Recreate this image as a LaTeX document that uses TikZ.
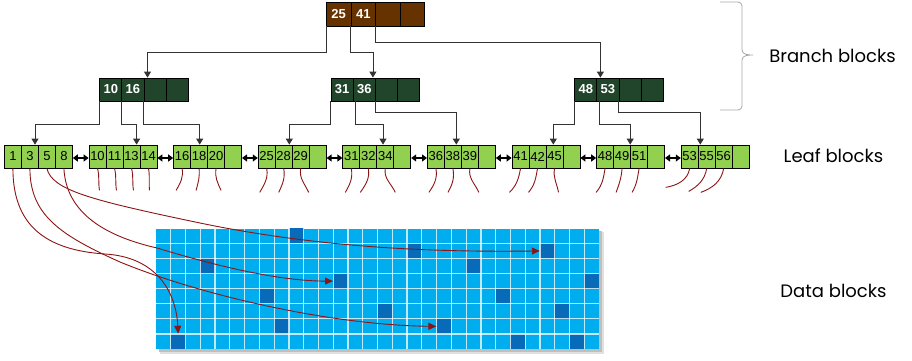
\documentclass[tikz,border=0pt]{standalone}
\usepackage{fontspec}
\setmainfont{Liberation Sans}
\newfontfamily\labelfont{Poppins}
\usetikzlibrary{arrows.meta,calc}
\definecolor{rootc}{RGB}{102,51,0}
\definecolor{branchc}{RGB}{33,69,43}
\definecolor{leafc}{RGB}{146,208,80}
\definecolor{gridc}{RGB}{0,174,239}
\definecolor{darksq}{RGB}{7,107,185}
\definecolor{ptr}{RGB}{140,20,20}
\tikzset{
  cellbase/.style={draw=black, line width=0.8pt, inner sep=0pt, anchor=west},
  rootcell/.style={cellbase, fill=rootc, minimum width=24.6pt, minimum height=24pt, text=white, font=\bfseries\fontsize{13}{13}\selectfont},
  branchcell/.style={cellbase, fill=branchc, minimum width=22.1pt, minimum height=23pt, text=white, font=\bfseries\fontsize{13}{13}\selectfont},
  leafcell/.style={cellbase, fill=leafc, minimum width=17pt, minimum height=23pt, text=black, font=\fontsize{13}{13}\selectfont},
  conn/.style={draw=black!80, line width=0.8pt, -{Triangle[width=7pt,length=6pt]}},
  dbl/.style={draw=black, line width=1.8pt, {Triangle[width=7pt,length=5pt]}-{Triangle[width=7pt,length=5pt]}},
  dsq/.style={fill=darksq, draw=none, minimum width=14.77pt, minimum height=15.09pt, inner sep=0pt},
  gline/.style={draw=white, draw opacity=0.75, line width=1.2pt},
  ptrline/.style={draw=ptr, line width=0.9pt, -{Triangle[width=7pt,length=8pt]}},
  sq/.style={draw=ptr, line width=0.9pt},
  lbl/.style={font=\labelfont\fontsize{18}{18}\selectfont, text=black, inner sep=0pt, anchor=base},
  bracestyle/.style={draw=gray!70, line width=0.8pt}
}
\begin{document}
\begin{tikzpicture}[x=1pt,y=-1pt]
\useasboundingbox (0,0) rectangle (912,361);

% root
\foreach \k/\t in {1/25,2/41,3/,4/} {
  \node[rootcell] (R-\k) at ({326+24.6*(\k-1)},14) {\t};
}
% branches
\foreach \i/\x/\a/\b in {1/99.3/10/16, 2/330.7/31/36, 3/574.3/48/53} {
  \node[branchcell] (B\i-1) at (\x,89.5) {\a};
  \node[branchcell] (B\i-2) at (\x+22.1,89.5) {\b};
  \node[branchcell] (B\i-3) at (\x+44.2,89.5) {};
  \node[branchcell] (B\i-4) at (\x+66.3,89.5) {};
}
% leaves
\foreach \i/\a/\b/\c/\d in {1/1/3/5/8, 2/10/11/13/14, 3/16/18/20/, 4/25/28/29/, 5/31/32/34/, 6/36/38/39/, 7/41/42/45/, 8/48/49/51/, 9/53/55/56/} {
  \pgfmathsetmacro\lx{4+84.6*(\i-1)}
  \node[leafcell] (L\i-1) at (\lx,156.5) {\a};
  \node[leafcell] (L\i-2) at (\lx+17,156.5) {\b};
  \node[leafcell] (L\i-3) at (\lx+34,156.5) {\c};
  \node[leafcell] (L\i-4) at (\lx+51,156.5) {\d};
}

% root connectors
\draw[conn] (R-1.south west) -- ++(0,26) -| ([xshift=4pt]B1-3.north west);
\draw[conn] (R-2.south west) -- ++(0,26) -| ([xshift=-2pt]B2-3.north west);
\draw[conn] (R-3.south west) -- ++(0,16) -| ([xshift=4pt]B3-2.north west);

% branch connectors
\draw[conn] (B1-1.south west) -- ++(0,22.7) -| ([xshift=-3pt]L1-3.north west);
\draw[conn] (B1-2.south west) -- ++(0,22.7) -| ([xshift=-3pt]L2-4.north west);
\draw[conn] (B1-3.south west) -- ++(0,22.7) -| ([xshift=-7.5pt]L3-3.north west);
\draw[conn] (B2-1.south west) -- ++(0,22.7) -| ([xshift=-2.5pt]L4-3.north west);
\draw[conn] ([xshift=2.5pt]B2-2.south west) -- ++(0,22.7) -| ([xshift=6.6pt]L5-3.north west);
\draw[conn] (B2-3.south west) -- ++(0,11.3) -| ([xshift=-4.7pt]L6-3.north west);
\draw[conn] (B3-1.south west) -- ++(0,22.7) -| ([xshift=7.7pt]L7-3.north west);
\draw[conn] ([xshift=3pt]B3-2.south west) -- ++(0,22.7) -| (L8-3.north west);
\draw[conn] (B3-3.south west) -- ++(0,11.3) -| ([xshift=2.5pt]L9-2.north west);

% sibling links
\foreach \i [evaluate=\i as \j using int(\i+1)] in {1,...,8} {
  \draw[dbl] ([yshift=-1.5pt]L\i-4.east) -- ([yshift=-1.5pt]L\j-1.west);
}

% data grid
\fill[black!12] (160,232) rectangle (603.5,353.5);
\fill[black!25] (158.5,230.5) rectangle (601.5,351.5);
\node[fill=gridc, draw=none, minimum width=443pt, minimum height=120.7pt, inner sep=0pt, anchor=north west] (grid) at (156,228.3) {};
\foreach \c/\r in {9/0, 17/1, 26/1, 3/2, 21/2, 12/3, 29/3, 7/4, 23/4, 15/5, 27/5, 8/6, 19/6, 1/7, 24/7, 28/7} {
  \node[dsq] (d-\c-\r) at ({156+14.77*\c+7.385},{228.3+15.09*\r+7.545}) {};
}
\foreach \c in {1,...,29} { \draw[gline] ({156+14.77*\c},228.3) -- ++(0,120.7); }
\foreach \r in {1,...,7} { \draw[gline] (156,{228.3+15.09*\r}) -- ++(443,0); }

% squiggles
\foreach \n/\dx/\oo/\ii/\dy in {
  L2-1/2/-75/100/22, L2-2/2/-75/100/22, L2-3/2/-75/100/22, L2-4/1/-80/95/22,
  L3-1/-6/-80/60/22, L3-2/-3/-85/75/22, L3-3/5/-100/115/22,
  L4-1/-7/-80/60/24, L4-2/-5/-80/65/24, L4-3/8/-100/115/24,
  L5-1/-6/-80/60/24, L5-2/-8/-80/55/24, L5-3/10/-100/115/24,
  L6-1/-7/-80/55/24, L6-2/-5/-80/60/24, L6-3/9/-100/115/24,
  L7-1/-11/-100/45/24, L7-2/-9/-100/50/24, L7-3/4/-100/100/24,
  L8-1/-9/-100/50/24, L8-2/-6/-95/70/24, L8-3/-7/-100/60/24,
  L9-1/-24/-100/10/19, L9-2/-18/-100/30/23, L9-3/-23/-100/20/24} {
  \draw[sq] (\n.south) to[out=\oo,in=\ii] ++(\dx,\dy);
}

% pointers from leaf 1 into data blocks
\draw[ptrline] (L1-1.south) .. controls (13,225) and (45,250) .. (105,254) .. controls (155,257) and (176,290) .. (d-1-7.north);
\draw[ptrline] (L1-2.south) .. controls (30,215) and (60,235) .. (120,262) .. controls (200,295) and (330,325) .. (d-19-6.west);
\draw[ptrline] (L1-3.south) .. controls (52,190) and (90,200) .. (200,223) .. controls (330,250) and (450,252) .. (d-26-1.west);
\draw[ptrline] (L1-4.south) .. controls (66,210) and (100,235) .. (157,248) .. controls (220,267) and (280,281) .. (d-12-3.west);

% brace and labels
\draw[bracestyle] (720,2) -- (738,2) to[out=0,in=90] (742,6) -- (742,50) to[out=-90,in=180] (753,55) to[out=180,in=90] (742,60) -- (742,106) to[out=-90,in=0] (738,110) -- (720,110);
\node[lbl] (lb) at (832.5,63) {Branch blocks};
\node[lbl] (ll) at (833.5,162) {Leaf blocks};
\node[lbl] (ld) at (833.5,297) {Data blocks};
\end{tikzpicture}
\end{document}
